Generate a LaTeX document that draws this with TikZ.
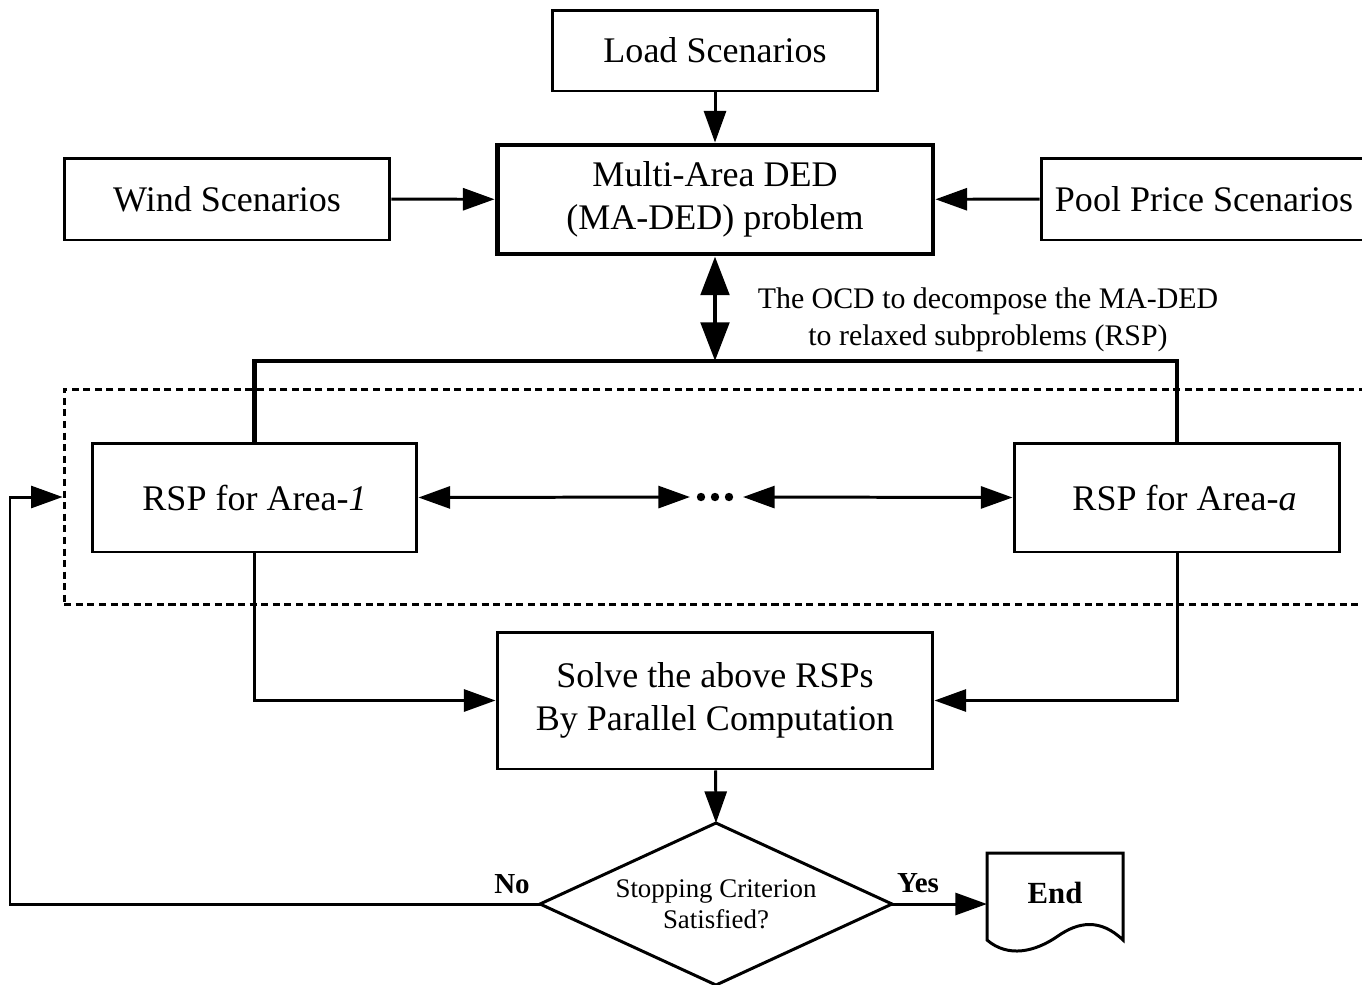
\documentclass[tikz,border=0pt]{standalone}
\usepackage{fontspec}
\setmainfont{Liberation Serif}
\usetikzlibrary{arrows.meta}
\begin{document}
\begin{tikzpicture}[x=0.02cm,y=-0.02cm,
  box/.style={draw,line width=1.7pt,inner sep=0pt,align=center,
    font=\fontsize{20.5}{24.5}\selectfont},
  heavybox/.style={box,line width=2.8pt},
  arr/.style={line width=1.7pt,-{Triangle[length=18pt,width=12.5pt]}},
  darr/.style={line width=1.7pt,{Triangle[length=18pt,width=12.5pt]}-{Triangle[length=18pt,width=12.5pt]}},
  bigarr/.style={line width=2.8pt,{Triangle[length=22pt,width=16pt]}-{Triangle[length=22pt,width=16pt]}},
  lbl/.style={font=\fontsize{17}{21}\selectfont,align=center},
  yn/.style={font=\fontsize{16.5}{20}\selectfont\bfseries}]
\clip (0,0) rectangle (1362,984);
\useasboundingbox (0,0) rectangle (1362,984);

% input scenarios and the multi-area problem
\node[box,minimum width=6.52cm,minimum height=1.62cm] (load) at (715,50.5) {Load Scenarios};
\node[box,minimum width=6.52cm,minimum height=1.64cm] (wind) at (227,199) {Wind Scenarios};
\node[box,minimum width=6.52cm,minimum height=1.64cm] (pool) at (1204,199) {Pool Price Scenarios};
\node[heavybox,minimum width=8.72cm,minimum height=2.18cm] (maded) at (715,199.5) {Multi-Area DED\\(MA-DED) problem};

\draw[arr] (load) -- (maded);
\draw[arr] (wind) -- (maded);
\draw[arr] (pool) -- (maded);

% decomposition into relaxed subproblems
\coordinate (split) at (715,361);
\draw[bigarr] (maded.south) -- (split);
\node[lbl] (ocd) at (988,320) {The OCD to decompose the MA-DED\\to relaxed subproblems (RSP)};

\node[draw,dash pattern=on 4pt off 2.6pt,line width=1.7pt,minimum width=26.4cm,minimum height=4.32cm] (grp) at (724,497) {};

\node[box,minimum width=6.5cm,minimum height=2.18cm] (rsp1) at (254.5,497.5) {RSP for Area-\textit{1}};
\node[box,minimum width=6.52cm,minimum height=2.18cm] (rspa) at (1177,497.5) {\hspace*{0.3cm}RSP for Area-\textit{a}};

\draw[line width=2.8pt] (rsp1.north) |- (split) -| (rspa.north);

% chain of areas
\node[inner sep=0pt,minimum size=0.8cm] (dots) at (715,497) {};
\foreach \dx in {-14,0,14} \fill (715+\dx,497) circle (4.2);
\coordinate (dl) at (690,497);
\coordinate (dr) at (743,497);
\draw[darr] (rsp1.east) -- (dl);
\draw[darr] (dr) -- (rspa.west);

% parallel solution
\node[box,minimum width=8.72cm,minimum height=2.74cm] (solve) at (715,700.5) {Solve the above RSPs\\By Parallel Computation};
\draw[arr] (rsp1.south) |- (solve.west);
\draw[arr] (rspa.south) |- (solve.east);

% stopping test (decision diamond)
\coordinate (dtop) at (716,823);
\coordinate (dleft) at (540,904);
\coordinate (dright) at (892,904);
\coordinate (dbot) at (716,985);
\draw[line width=1.7pt,line join=miter] (dtop) -- (dright) -- (dbot) -- (dleft) -- cycle;
\node[font=\fontsize{15.3}{17.6}\selectfont,align=center] (stop) at (716,904) {Stopping Criterion\\Satisfied?};
\draw[arr] (solve) -- (dtop);

% end terminal (document shape)
\draw[line width=1.7pt] (987,853) -- (1123,853) -- (1123,940)
  .. controls (1100,918) and (1078,922) .. (1058,936)
  .. controls (1035,952) and (1008,958) .. (987,940) -- cycle;
\node[yn,font=\fontsize{17.5}{20}\selectfont\bfseries] (end) at (1055,893) {End};
\coordinate (endin) at (987,904);
\draw[arr] (dright) -- (endin);
\node[yn] (yes) at (918,883) {Yes};

% feedback loop
\node[yn] (no) at (512,884) {No};
\coordinate (fb) at (10,904);
\draw[arr] (dleft) -- (fb) |- (grp.west);
\end{tikzpicture}
\end{document}
